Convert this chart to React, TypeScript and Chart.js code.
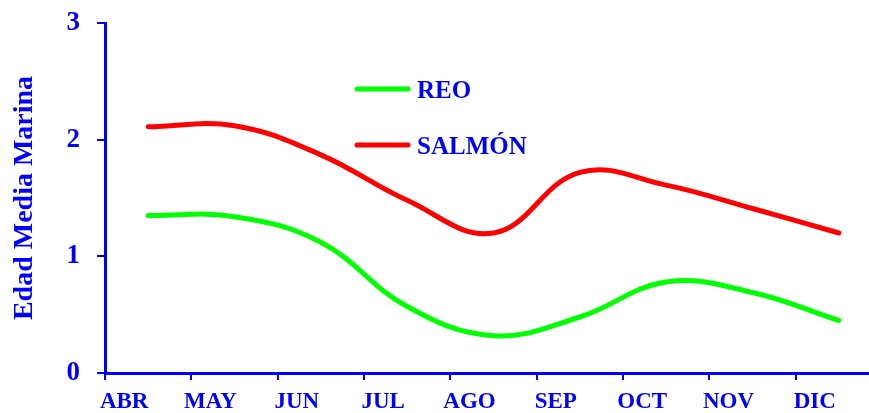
import React, { useEffect, useRef } from 'react';
import { Chart, registerables } from 'chart.js';

Chart.register(...registerables);

const months = ['ABR', 'MAY', 'JUN', 'JUL', 'AGO', 'SEP', 'OCT', 'NOV', 'DIC'];
const reoValues = [1.35, 1.34, 1.12, 0.57, 0.32, 0.48, 0.78, 0.69, 0.45];
const salmonValues = [2.11, 2.12, 1.87, 1.48, 1.2, 1.72, 1.61, 1.41, 1.2];
const seriesNames = ['REO', 'SALMÓN'];
const seriesColors = ['#00FF00', '#FF0000'];
const yMin = 0;
const yMax = 3;
const yStep = 1;
const yTitle = 'Edad Media Marina';

const BLUE = '#0000FF';
const FONT = "'Liberation Serif', 'Times New Roman', serif";

const insideLegend = {
  id: 'insideLegend',
  afterDraw(chart: any) {
    const ctx = chart.ctx;
    ctx.save();
    chart.data.datasets.forEach((ds: any, i: number) => {
      const y = 89 + i * 56;
      ctx.strokeStyle = ds.borderColor;
      ctx.lineWidth = 5;
      ctx.lineCap = 'round';
      ctx.beginPath();
      ctx.moveTo(357, y);
      ctx.lineTo(408, y);
      ctx.stroke();
      ctx.fillStyle = BLUE;
      ctx.font = `bold 25px ${FONT}`;
      ctx.textBaseline = 'middle';
      ctx.textAlign = 'left';
      ctx.fillText(ds.label, 417, y + 3);
    });
    ctx.restore();
  },
};

export default function App() {
  const ref = useRef<HTMLCanvasElement | null>(null);

  useEffect(() => {
    if (!ref.current) return;
    const chart = new Chart(ref.current, {
      type: 'line',
      data: {
        labels: months,
        datasets: [
          {
            label: seriesNames[0],
            data: reoValues,
            borderColor: seriesColors[0],
            backgroundColor: seriesColors[0],
            borderWidth: 5,
            pointRadius: 0,
            tension: 0.4,
            borderCapStyle: 'round',
            fill: false,
          },
          {
            label: seriesNames[1],
            data: salmonValues,
            borderColor: seriesColors[1],
            backgroundColor: seriesColors[1],
            borderWidth: 5,
            pointRadius: 0,
            tension: 0.4,
            borderCapStyle: 'round',
            fill: false,
          },
        ],
      },
      options: {
        responsive: false,
        animation: false,
        devicePixelRatio: 1,
        layout: { padding: { top: 23, right: 18, bottom: 0, left: 0 } },
        plugins: {
          legend: { display: false },
          tooltip: { enabled: false },
        },
        scales: {
          x: {
            type: 'category',
            offset: true,
            grid: {
              offset: true,
              drawOnChartArea: false,
              drawTicks: true,
              tickLength: 7,
              color: BLUE,
              lineWidth: 2,
            },
            border: { color: BLUE, width: 3 },
            ticks: {
              color: BLUE,
              font: { family: FONT, size: 23, weight: 'bold' },
              labelOffset: -24,
              padding: 8,
              maxRotation: 0,
              autoSkip: false,
            },
            afterFit: (s: any) => {
              s.height = 40;
              s.paddingLeft = 0;
              s.paddingRight = 0;
            },
          },
          y: {
            min: yMin,
            max: yMax,
            ticks: {
              stepSize: yStep,
              color: BLUE,
              font: { family: FONT, size: 27, weight: 'bold' },
              padding: 17,
            },
            grid: {
              drawOnChartArea: false,
              tickLength: 8,
              color: BLUE,
              lineWidth: 2,
            },
            border: { color: BLUE, width: 3 },
            title: {
              display: true,
              text: yTitle,
              color: BLUE,
              font: { family: FONT, size: 28, weight: 'bold' },
              padding: { top: 8, bottom: 0 },
            },
            afterFit: (s: any) => {
              s.width = 105;
              s.paddingTop = 0;
              s.paddingBottom = 0;
            },
          },
        },
      },
      plugins: [insideLegend],
    } as any);
    return () => chart.destroy();
  }, []);

  return (
    <div
      style={{
        position: 'fixed',
        left: 0,
        top: 0,
        width: 869,
        height: 413,
        overflow: 'hidden',
        background: '#fff',
      }}
    >
      <canvas ref={ref} width={900} height={413} style={{ display: 'block', width: 900, height: 413 }} />
    </div>
  );
}
